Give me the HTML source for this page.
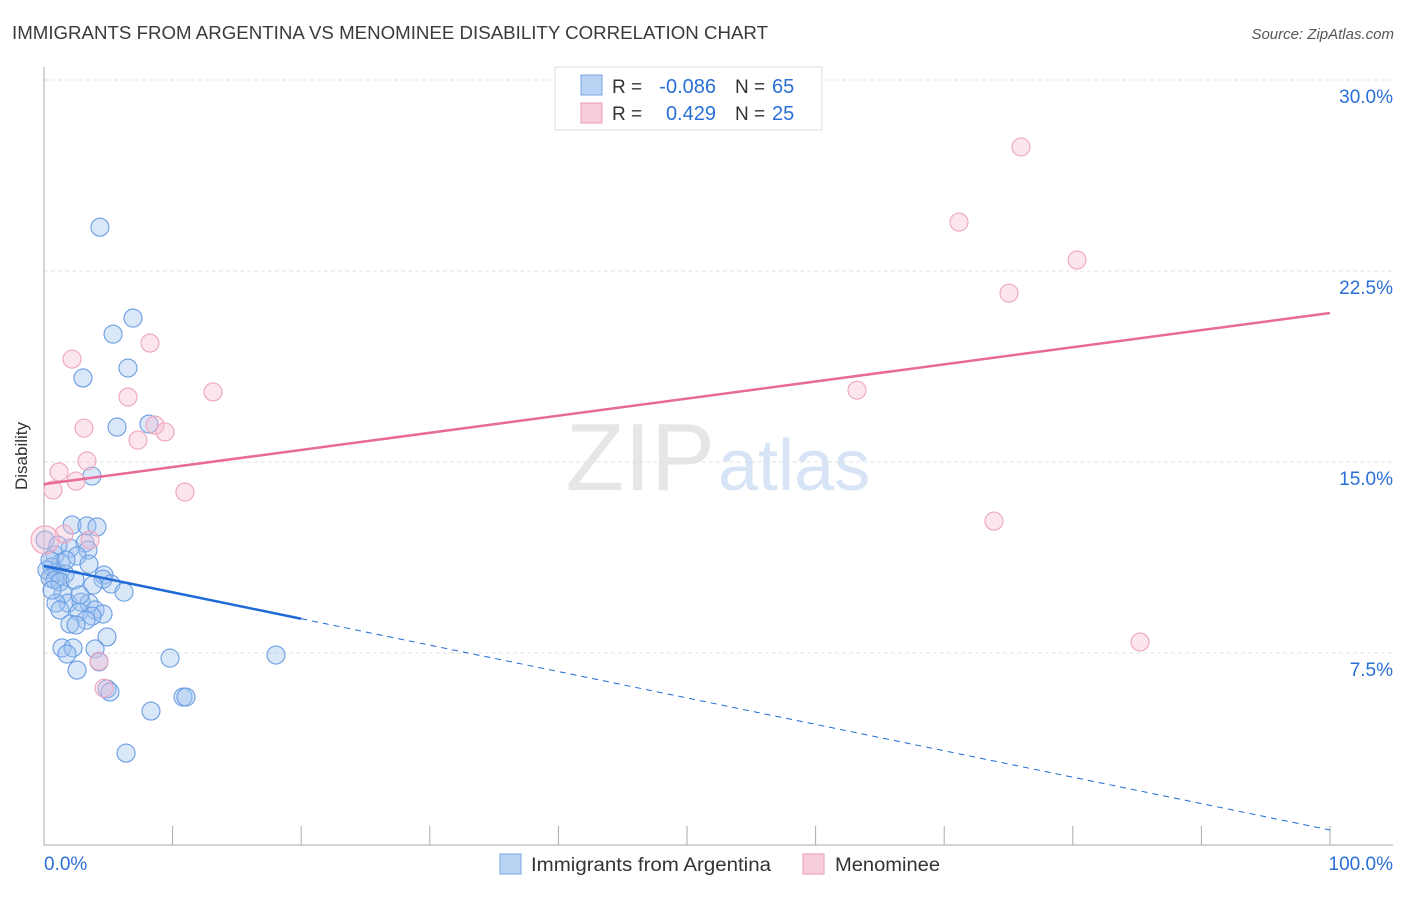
<!DOCTYPE html>
<html><head><meta charset="utf-8"><style>
body{margin:0;background:#fff;font-family:"Liberation Sans",sans-serif;}
svg text{font-family:"Liberation Sans",sans-serif;}
</style></head><body>
<svg id="c" width="1406" height="892" xmlns="http://www.w3.org/2000/svg">
<text x="12" y="39" font-size="18" fill="#3a3a3a" textLength="756" lengthAdjust="spacingAndGlyphs">IMMIGRANTS FROM ARGENTINA VS MENOMINEE DISABILITY CORRELATION CHART</text>
<text x="1394" y="39" font-size="15" fill="#555" font-style="italic" text-anchor="end">Source: ZipAtlas.com</text>
<text x="27" y="456" font-size="17" fill="#333" text-anchor="middle" transform="rotate(-90 27 456)">Disability</text>
<text x="715" y="490" font-size="96" fill="#e6e6e6" text-anchor="end" font-family="Liberation Serif">ZIP</text>
<text x="718" y="490" font-size="72" fill="#d6e4f5">atlas</text>
<g id="grid"></g><g id="axes"></g><g id="pts"></g><g id="trend"></g>
<g>
<rect x="555" y="67" width="267" height="63" fill="#fff" stroke="#ddd"/>
<rect x="581" y="75" width="21" height="20" fill="#b9d3f5" stroke="#7aa5e0"/>
<text x="612" y="93" font-size="19" fill="#333">R =</text>
<text x="716" y="93" font-size="20" fill="#2a6fd6" text-anchor="end">-0.086</text>
<text x="735" y="93" font-size="19" fill="#333">N =</text>
<text x="772" y="93" font-size="20" fill="#2a6fd6">65</text>
<rect x="581" y="103" width="21" height="20" fill="#f9cedb" stroke="#eb9ab3"/>
<text x="612" y="120" font-size="19" fill="#333">R =</text>
<text x="716" y="120" font-size="20" fill="#2a6fd6" text-anchor="end">0.429</text>
<text x="735" y="120" font-size="19" fill="#333">N =</text>
<text x="772" y="120" font-size="20" fill="#2a6fd6">25</text>
</g>
<g>
<rect x="500" y="854" width="21" height="20" fill="#b9d3f5" stroke="#7aa5e0"/>
<text x="531" y="871" font-size="19" fill="#333" textLength="240" lengthAdjust="spacingAndGlyphs">Immigrants from Argentina</text>
<rect x="803" y="854" width="21" height="20" fill="#f9cedb" stroke="#eb9ab3"/>
<text x="835" y="871" font-size="19" fill="#333" textLength="105" lengthAdjust="spacingAndGlyphs">Menominee</text>
</g>
</svg>
<script>
const blueX=[4.35,6.92,5.37,6.53,3.03,5.68,8.16,3.73,2.18,3.34,4.12,3.19,2.02,0.86,3.42,2.57,1.32,0.62,3.50,0.23,1.01,1.63,0.47,0.86,4.67,1.24,4.59,5.21,6.22,1.48,1.87,0.93,2.88,3.50,3.97,2.72,4.59,3.73,3.27,2.02,2.49,4.90,1.40,2.26,3.97,1.79,4.28,2.57,9.80,18.04,4.90,5.13,8.32,10.81,11.04,6.38,0.08,0.47,1.09,0.62,1.71,2.41,2.80,1.24,3.81];
const blueY=[24.22,20.65,20.02,18.69,18.30,16.37,16.49,14.45,12.53,12.49,12.45,11.82,11.62,11.35,11.54,11.31,11.03,10.88,10.99,10.76,10.68,10.60,10.44,10.37,10.56,10.29,10.40,10.21,9.89,9.82,9.46,9.46,9.50,9.46,9.19,9.11,9.03,8.95,8.79,8.64,8.60,8.13,7.70,7.70,7.66,7.46,7.15,6.83,7.30,7.42,6.09,5.97,5.22,5.77,5.77,3.57,11.94,11.15,11.74,9.97,11.15,10.37,9.78,9.19,10.17];
const pinkX=[75.97,71.15,80.33,75.04,2.18,8.24,13.14,6.53,63.22,3.11,8.63,9.41,7.31,3.34,1.17,2.49,0.70,10.96,73.87,1.56,3.58,0.08,4.28,4.67,85.23];
const pinkY=[27.37,24.42,22.93,21.63,19.04,19.67,17.75,17.55,17.82,16.33,16.45,16.18,15.86,15.04,14.61,14.25,13.90,13.82,12.68,12.17,11.94,11.94,7.18,6.12,7.93];
const yTicks=[7.5,15,22.5,30];
const yTickLabels=["7.5%","15.0%","22.5%","30.0%"];
const blueTrend=[10.92,0.55];
const pinkTrend=[14.13,20.85];
const xTickVals=[0,10,20,30,40,50,60,70,80,90,100];
const NS="http://www.w3.org/2000/svg";
const sx=v=>44+v*12.86, sy=v=>844-v*25.467;
function mk(tag,attrs,parent){const e=document.createElementNS(NS,tag);for(const k in attrs)e.setAttribute(k,attrs[k]);parent.appendChild(e);return e;}
const grid=document.getElementById('grid'),axes=document.getElementById('axes'),pts=document.getElementById('pts'),tr=document.getElementById('trend');
yTicks.forEach((t,i)=>{
 const l=mk('line',{x1:44,x2:1393,y1:sy(t),y2:sy(t),stroke:'#e0e0e0','stroke-dasharray':'4,3'},grid);
 
 
 const tx=mk('text',{x:1393,y:sy(t)+23,'font-size':19,fill:'#2a6fd6','text-anchor':'end'},grid);
 tx.textContent=yTickLabels[i];
 
 
});
const ya=mk('line',{x1:44,x2:44,y1:67,y2:845,stroke:'#aaa'},axes);


const xa=mk('line',{x1:44,x2:1393,y1:845,y2:845,stroke:'#aaa'},axes);


xTickVals.slice(1).forEach(v=>{
 const t=mk('line',{x1:sx(v),x2:sx(v),y1:826,y2:845,stroke:'#aaa'},axes);
 
 
});
const xl0=mk('text',{x:44,y:870,'font-size':19,fill:'#2a6fd6'},axes);xl0.textContent='0.0%';


const xl1=mk('text',{x:1393,y:870,'font-size':19,fill:'#2a6fd6','text-anchor':'end'},axes);xl1.textContent='100.0%';


blueX.forEach((x,i)=>{
 const c=mk('circle',{cx:sx(x),cy:sy(blueY[i]),r:9,fill:'rgba(160,196,240,0.4)',stroke:'#6a9ee3','stroke-width':1.1},pts);
 
 
});
pinkX.forEach((x,i)=>{
 const c=mk('circle',{cx:sx(x),cy:sy(pinkY[i]),r:(x<0.5?14:9),fill:'rgba(248,190,210,0.4)',stroke:'#eea5bc','stroke-width':1.1},pts);
 
 
});
const bAt=v=>blueTrend[0]+(blueTrend[1]-blueTrend[0])*v/100;
const b1=mk('line',{x1:sx(0),y1:sy(bAt(0)),x2:sx(20),y2:sy(bAt(20)),stroke:'#1f6ad6','stroke-width':2.5},tr);


const b2=mk('line',{x1:sx(20),y1:sy(bAt(20)),x2:sx(100),y2:sy(bAt(100)),stroke:'#1f6ad6','stroke-width':1,'stroke-dasharray':'6,5'},tr);


const p=mk('line',{x1:sx(0),y1:sy(pinkTrend[0]),x2:sx(100),y2:sy(pinkTrend[1]),stroke:'#e86a96','stroke-width':2.5},tr);


</script>
</body></html>
